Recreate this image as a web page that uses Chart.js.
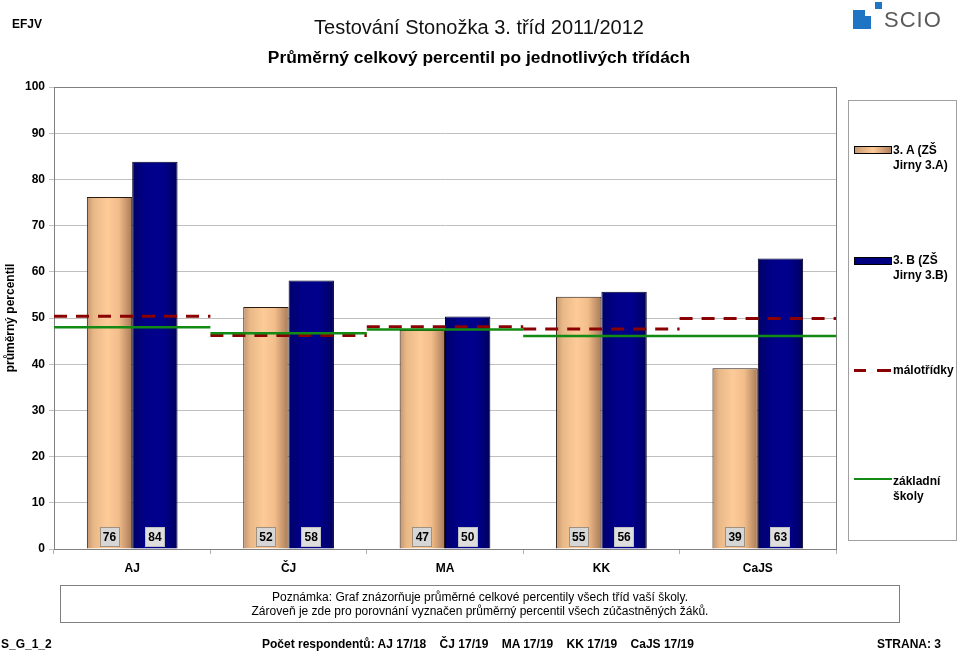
<!DOCTYPE html>
<html>
<head>
<meta charset="utf-8">
<script src="https://cdn.jsdelivr.net/npm/chart.js@4"></script>
<style>
html,body{margin:0;padding:0;background:#fff;}
body{width:960px;height:651px;position:relative;overflow:hidden;font-family:"Liberation Sans",Arial,sans-serif;color:#000;}
.layer{position:absolute;left:0;top:0;width:960px;height:651px;}
.abs{position:absolute;white-space:nowrap;}
#efjv{left:12px;top:17px;font-size:12px;font-weight:bold;}
#title{left:0;width:958px;text-align:center;top:16px;font-size:20px;color:#111;}
#subtitle{left:0;width:958px;text-align:center;top:47px;font-size:17.4px;font-weight:bold;}
#legend{position:absolute;left:848px;top:100px;width:109px;height:441px;border:1px solid #a0a0a0;box-sizing:border-box;}
.lt{position:absolute;font-size:12px;font-weight:bold;line-height:15px;white-space:nowrap;}
.sw{position:absolute;}
#note{position:absolute;left:60px;top:585px;width:840px;height:38px;border:1px solid #808080;box-sizing:border-box;text-align:center;font-size:12px;line-height:14px;padding-top:4px;}
.foot{position:absolute;top:637px;font-size:12px;font-weight:bold;white-space:pre;}
</style>
</head>
<body>
<div class="layer"><canvas id="c" width="960" height="651"></canvas></div>
<div class="layer"><canvas id="l" width="960" height="651"></canvas></div>
<div class="abs" id="efjv">EFJV</div>
<div class="abs" id="title">Testování Stonožka 3. tříd 2011/2012</div>
<div class="abs" id="subtitle">Průměrný celkový percentil po jednotlivých třídách</div>
<!-- SCIO logo -->
<div class="abs" style="left:853px;top:10px;width:18px;height:19px;background:#1f74c4;"></div>
<div class="abs" style="left:865px;top:10px;width:6px;height:6px;background:#fff;"></div>
<div class="abs" style="left:875px;top:2px;width:7px;height:7px;background:#1f74c4;"></div>
<div class="abs" style="left:884px;top:7px;font-size:22px;line-height:25px;color:#5a5a5a;letter-spacing:1px;font-family:'Liberation Sans',sans-serif;">SCIO</div>
<div id="legend">
  <div class="sw" style="left:5px;top:45px;width:36px;height:6px;border:1px solid #000;background:linear-gradient(to right,#c89a70,#fcca96 50%,#b08060);"></div>
  <div class="lt" style="left:44px;top:42px;">3. A (ZŠ<br>Jirny 3.A)</div>
  <div class="sw" style="left:5px;top:156px;width:36px;height:6px;border:1px solid #000;background:#000080;"></div>
  <div class="lt" style="left:44px;top:152px;">3. B (ZŠ<br>Jirny 3.B)</div>
  <div class="sw" style="left:5px;top:268px;width:12px;height:3px;background:#8b0000;"></div>
  <div class="sw" style="left:28px;top:268px;width:14px;height:3px;background:#8b0000;"></div>
  <div class="lt" style="left:44px;top:262px;">málotřídky</div>
  <div class="sw" style="left:5px;top:377px;width:38px;height:2px;background:#138a13;"></div>
  <div class="lt" style="left:44px;top:373px;">základní<br>školy</div>
</div>
<div id="note">Poznámka: Graf znázorňuje průměrné celkové percentily všech tříd vaší školy.<br>Zároveň je zde pro porovnání vyznačen průměrný percentil všech zúčastněných žáků.</div>
<div class="foot" style="left:1px;">S_G_1_2</div>
<div class="foot" style="left:262px;">Počet respondentů: AJ 17/18    ČJ 17/19    MA 17/19    KK 17/19    CaJS 17/19</div>
<div class="foot" style="left:877px;">STRANA: 3</div>
<script>
const categories = ['AJ', 'ČJ', 'MA', 'KK', 'CaJS'];
const classA = [76.2, 52.4, 47.4, 54.6, 39.1];
const classB = [83.8, 58.1, 50.3, 55.7, 62.9];
const malotridky = [50.4, 46.2, 48.1, 47.6, 49.9];
const zakladni = [48.0, 46.7, 47.5, 46.1, 46.1];
const yTicks = [0, 10, 20, 30, 40, 50, 60, 70, 80, 90, 100];

const CAT_PCT = 0.58;
const PAD = {left: 0, top: 87, right: 124, bottom: 66};
const Y_W = 54, X_H = 36;

function stepSegments(vals) {
  const out = [];
  vals.forEach((v, i) => {
    out.push({x: i - 0.5, y: v});
    out.push({x: i + 0.5, y: v});
    if (i < vals.length - 1) out.push({x: i + 0.5, y: null});
  });
  return out;
}

function barGradient(ctx, dsIndex, stops) {
  const chart = ctx.chart;
  const xs = chart.scales.x;
  if (!xs || !chart.chartArea || ctx.dataIndex === undefined) return stops[2][1];
  const center = xs.getPixelForValue(ctx.dataIndex);
  const catW = xs.width / categories.length;
  const bw = catW * CAT_PCT / 2;
  const left = dsIndex === 0 ? center - bw : center;
  const g = chart.ctx.createLinearGradient(left, 0, left + bw, 0);
  stops.forEach(s => g.addColorStop(s[0], s[1]));
  return g;
}

const tanStops = [[0, '#c49670'], [0.15, '#e8b887'], [0.45, '#fdcb98'], [0.7, '#f2bd8a'], [1, '#a87a58']];
const navyStops = [[0, '#00006a'], [0.3, '#000088'], [0.65, '#00008e'], [0.9, '#000070'], [1, '#000050']];

const framePlugin = {
  id: 'frame',
  beforeDatasetsDraw(chart) {
    const a = chart.chartArea, c = chart.ctx;
    c.save();
    c.strokeStyle = '#808080';
    c.lineWidth = 1;
    c.strokeRect(Math.round(a.left) + 0.5, Math.round(a.top) + 0.5, Math.round(a.right - a.left), Math.round(a.bottom - a.top));
    c.restore();
  }
};

const labelPlugin = {
  id: 'boxLabels',
  afterDatasetsDraw(chart) {
    const c = chart.ctx;
    const ys = chart.scales.y;
    const yc = ys.getPixelForValue(2.6);
    [0, 1].forEach(di => {
      const meta = chart.getDatasetMeta(di);
      const vals = di === 0 ? classA : classB;
      meta.data.forEach((el, i) => {
        const txt = String(Math.round(vals[i]));
        c.save();
        c.font = 'bold 12px "Liberation Sans", Arial, sans-serif';
        const w = 20, h = 20;
        const x0 = Math.round(el.x - w / 2), y0 = Math.round(yc - h / 2);
        c.fillStyle = di === 0 ? '#d6d6d6' : '#dedede';
        c.fillRect(x0, y0, w, h);
        c.strokeStyle = di === 0 ? '#a09080' : '#c0c0c0';
        c.lineWidth = 1;
        c.strokeRect(x0 + 0.5, y0 + 0.5, w - 1, h - 1);
        c.fillStyle = '#000';
        c.textAlign = 'center';
        c.textBaseline = 'middle';
        c.fillText(txt, el.x, yc + 1);
        c.restore();
      });
    });
  }
};

Chart.defaults.font.family = '"Liberation Sans", Arial, sans-serif';
Chart.defaults.font.size = 12;
Chart.defaults.color = '#000';

// Bar chart with axes
new Chart(document.getElementById('c'), {
  type: 'bar',
  data: {
    labels: categories,
    datasets: [
      {
        label: '3. A (ZŠ Jirny 3.A)', data: classA,
        backgroundColor: ctx => barGradient(ctx, 0, tanStops),
        borderColor: '#2a1a10', borderWidth: 1,
        categoryPercentage: CAT_PCT, barPercentage: 1.0
      },
      {
        label: '3. B (ZŠ Jirny 3.B)', data: classB,
        backgroundColor: ctx => barGradient(ctx, 1, navyStops),
        borderColor: '#000020', borderWidth: 1,
        categoryPercentage: CAT_PCT, barPercentage: 1.0
      }
    ]
  },
  options: {
    responsive: false,
    animation: false,
    events: [],
    layout: {padding: PAD},
    plugins: {legend: {display: false}, tooltip: {enabled: false}, title: {display: false}},
    scales: {
      x: {
        afterFit(s) { s.height = X_H; },
        grid: {offset: true, drawOnChartArea: false, drawTicks: true, tickLength: 5, color: '#b0b0b0'},
        border: {display: true, color: '#808080'},
        ticks: {padding: 7, font: {weight: 'bold', size: 12}, color: '#000'}
      },
      y: {
        type: 'linear', min: 0, max: 100,
        afterFit(s) { s.width = Y_W; },
        afterBuildTicks(s) { s.ticks = yTicks.map(v => ({value: v})); },
        grid: {color: '#c0c0c0', tickLength: 5, drawTicks: true},
        border: {display: true, color: '#808080'},
        ticks: {padding: 4, font: {weight: 'bold', size: 12}, color: '#000'},
        title: {display: true, text: 'průměrný percentil', font: {weight: 'bold', size: 12}, color: '#000', padding: {top: 3, bottom: 0}}
      }
    }
  },
  plugins: [framePlugin, labelPlugin]
});

// Reference lines overlay with identical plot area
new Chart(document.getElementById('l'), {
  type: 'line',
  data: {
    datasets: [
      {
        label: 'základní školy', data: stepSegments(zakladni),
        borderColor: '#138a13', borderWidth: 2.5, pointRadius: 0, spanGaps: false, tension: 0, fill: false
      },
      {
        label: 'málotřídky', data: stepSegments(malotridky),
        borderColor: '#8b0000', borderWidth: 3, borderDash: [13, 9], pointRadius: 0, spanGaps: false, tension: 0, fill: false
      }
    ]
  },
  options: {
    responsive: false,
    animation: false,
    events: [],
    layout: {padding: {left: PAD.left + Y_W, top: PAD.top, right: PAD.right, bottom: PAD.bottom + X_H}},
    plugins: {legend: {display: false}, tooltip: {enabled: false}, title: {display: false}},
    scales: {
      x: {type: 'linear', display: false, min: -0.5, max: categories.length - 0.5},
      y: {type: 'linear', display: false, min: 0, max: 100}
    }
  }
});
</script>
</body>
</html>
